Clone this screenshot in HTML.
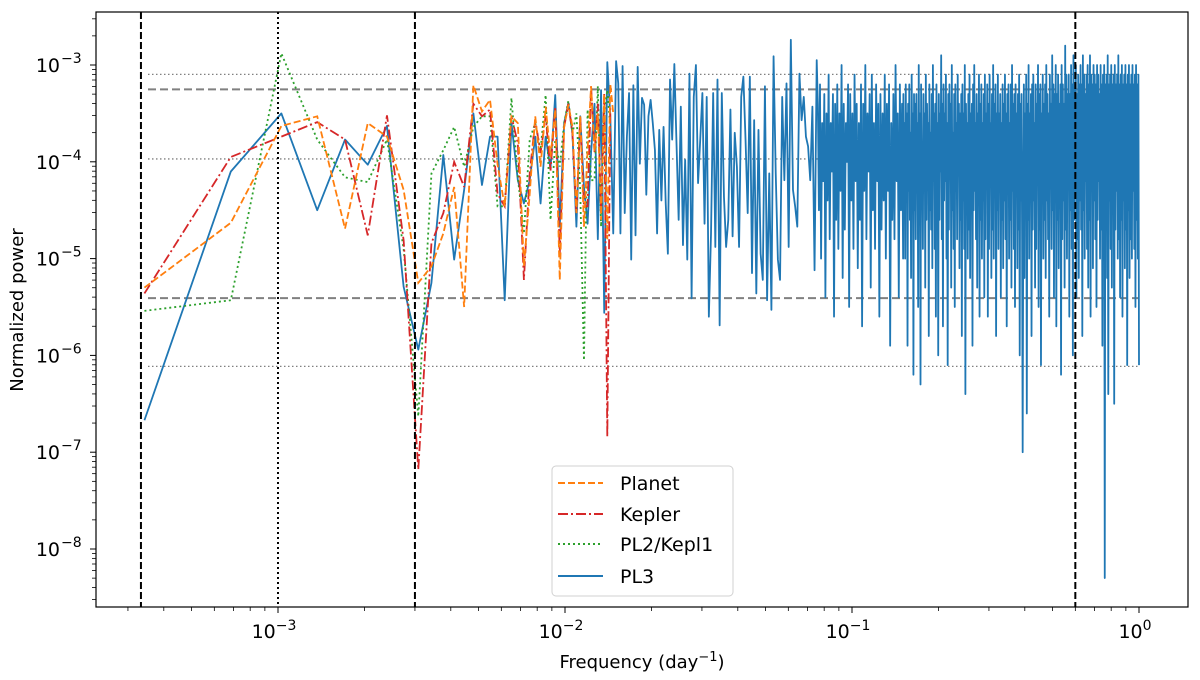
<!DOCTYPE html>
<html><head><meta charset="utf-8"><style>
body{margin:0;background:#fff;}
svg{display:block;font-family:"DejaVu Sans","Liberation Sans",sans-serif;}
</style></head><body>
<svg id="chart" width="1200" height="680" viewBox="0 0 1200 680" xmlns="http://www.w3.org/2000/svg">
<defs><clipPath id="plotclip"><rect x="96" y="12" width="1092" height="595"/></clipPath></defs>
<rect width="1200" height="680" fill="#fff"/>
<g id="refs" clip-path="url(#plotclip)"></g>
<g id="series" clip-path="url(#plotclip)"></g>
<g id="axes"></g>
<text transform="translate(23,310) rotate(-90)" text-anchor="middle" font-size="18">Normalized power</text>
<text x="642" y="668" text-anchor="middle" font-size="18">Frequency (day<tspan dy="-7" font-size="13">−1</tspan><tspan dy="7">)</tspan></text>
<g>
<rect x="552" y="466" width="181" height="130" rx="4" fill="#fff" stroke="#d0d0d0" stroke-width="1"/>
<line x1="558" y1="483" x2="603" y2="483" stroke="#ff7f0e" stroke-width="2" stroke-dasharray="7,3"/>
<text x="620" y="490" font-size="19">Planet</text>
<line x1="558" y1="514" x2="603" y2="514" stroke="#d62728" stroke-width="2" stroke-dasharray="10,3,2,3"/>
<text x="620" y="521" font-size="19">Kepler</text>
<line x1="558" y1="544" x2="603" y2="544" stroke="#2ca02c" stroke-width="2" stroke-dasharray="2,3"/>
<text x="620" y="551" font-size="19">PL2/Kepl1</text>
<line x1="558" y1="576" x2="603" y2="576" stroke="#1f77b4" stroke-width="2"/>
<text x="620" y="583" font-size="19">PL3</text>
</g>
</svg>
<script>
const df = 1/2920;
const planetLog = [-5.30,-4.63,-3.63,-3.53,-4.69,-3.60,-3.74,-4.29,-5.25,-5.08,-4.74,-4.26,-5.50,-3.21,-3.48,-3.36,-4.03,-4.46,-3.53,-3.60,-5.08,-4.33,-3.53,-4.05,-3.43,-3.95,-3.46,-5.22,-3.64,-3.41,-3.64,-4.53,-3.53,-4.67,-3.88,-3.22,-3.9,-3.5,-4.6,-3.3,-4.8,-3.2,-3.5];
const keplerLog = [-5.36,-3.95,-3.74,-3.59,-3.77,-4.76,-3.52,-4.81,-7.18,-4.84,-4.53,-4.0,-4.26,-3.40,-3.53,-3.46,-4.33,-4.46,-3.53,-3.81,-5.22,-4.12,-3.57,-3.91,-3.53,-4.09,-3.43,-4.95,-3.64,-3.40,-3.71,-4.53,-3.53,-4.46,-4.46,-3.22,-3.9,-3.4,-4.5,-3.3,-6.84,-3.43];
const pl2Log = [-5.54,-5.43,-2.88,-3.77,-4.16,-4.21,-3.77,-4.9,-6.63,-4.12,-3.88,-3.64,-4.05,-3.64,-3.53,-3.53,-4.46,-4.46,-3.34,-4.16,-4.74,-3.77,-3.60,-3.88,-3.31,-4.60,-3.77,-4.05,-3.60,-3.37,-3.71,-3.5,-4.3,-6.05,-3.46,-4.19,-4.19,-3.22,-4.67,-3.50,-3.26,-3.64];
const pl3LowLog = [-6.67,-4.10,-3.50,-4.50,-3.77,-4.03,-3.63,-5.29,-5.94,-5.25,-3.93,-5.01,-4.29,-3.50,-4.24,-3.74,-3.74,-5.43,-3.60,-4.19,-4.43,-4.19,-3.74,-4.43,-3.74,-4.07,-3.31,-4.67,-3.60,-3.39,-3.71,-4.67,-3.53,-4.26,-4.64,-3.9,-3.4,-4.8,-3.26,-5.56,-2.97,-3.53,-4.74];
const pl3MidLog = [-2.96,-3.19,-4.74,-3.01,-4.53,-3.74,-3.29,-5.01,-3.21,-4.76,-3.02,-4.02,-3.34,-3.41,-4.34,-3.53,-3.36,-3.60,-3.88,-4.74,-3.67,-4.40,-3.64,-4.43,-4.95,-3.15,-3.77,-2.99,-3.81,-4.60,-3.43,-4.86,-3.98,-5.01,-3.09,-5.41,-3.33,-3.00,-4.22,-3.77,-3.29,-4.64,-3.33,-5.60,-4.74,-3.29,-4.88,-3.15,-5.69,-3.29,-4.36,-4.88,-4.60,-3.46,-4.77,-3.70,-4.05,-4.88,-3.33,-3.12,-3.77,-4.53,-3.12,-5.15,-3.57,-5.36,-3.67,-4.95,-5.22,-3.22,-5.43,-4.12,-5.53,-2.91,-4.12,-5.01,-5.22,-3.33,-4.19,-3.19,-4.88,-2.74,-4.29,-4.46,-4.67,-3.09,-3.57,-3.33,-3.74,-3.84,-4.19,-3.43,-5.12,-2.95];
const pl3Mid2Log = [
-3.4,-4.5,-3.2,-5.0,-3.6,-4.2,-3.3,-5.4,-3.5,-4.4,
-3.1,-4.8,-3.6,-4.1,-3.3,-5.6,-3.4,-4.6,-3.2,-4.9,
-3.5,-4.3,-3.0,-5.2,-3.4,-4.7,-3.6,-4.0,-3.2,-5.5,
-3.3,-4.4,-3.5,-4.9,-3.1,-4.2,-3.4,-5.1,-3.6,-4.6,
-3.2,-5.7,-3.4,-4.3,-3.0,-4.8,-3.5,-4.1,-3.3,-5.3,
-3.1,-4.5,-3.6,-4.9,-3.2,-4.2,-3.4,-5.6,-3.3,-4.7,
-3.5,-4.4,-3.1,-5.0,-3.4,-4.3,-3.2,-5.9,-3.6,-4.6,
-3.3,-4.8,-3.0,-4.2,-3.5,-5.4,-3.2,-4.5,-3.4,-5.0];
const pl3HighLog = [
-3.3,-4.4,-3.6,-5.0,-3.2,-4.1,-3.5,-5.9,-3.4,-4.3,
-3.2,-4.6,-3.7,-5.2,-3.1,-4.0,-3.5,-6.2,-3.3,-4.5,
-3.4,-4.8,-3.3,-4.2,-3.6,-5.5,-3.0,-4.4,-3.5,-6.3,
-3.2,-4.1,-3.8,-4.9,-3.3,-4.3,-3.5,-5.3,-3.1,-4.6,
-3.4,-4.0,-3.6,-5.8,-3.2,-4.5,-3.7,-4.7,-3.3,-5.1,
-3.0,-4.2,-3.5,-4.9,-3.4,-5.6,-3.2,-4.3,-3.6,-6.0,
-3.3,-4.6,-3.5,-4.1,-2.9,-4.8,-3.4,-5.7,-3.2,-4.4,
-3.5,-4.2,-3.1,-5.0,-3.6,-6.1,-3.3,-4.7,-3.2,-4.0,
-3.4,-5.3,-3.0,-4.5,-3.7,-4.9,-3.3,-5.5,-3.2,-4.3,
-3.6,-4.8,-3.1,-4.1,-3.4,-5.1,-3.5,-4.6,-3.3,-5.8,
-3.2,-4.4,-3.5,-4.9,-3.0,-6.4,-3.4,-4.2,-3.6,-5.0,
-3.3,-4.7,-3.1,-5.2,-3.5,-4.0,-3.4,-5.9,-3.2,-4.5,
-3.0,-4.3,-3.6,-4.8,-3.3,-5.3,-3.5,-4.1,-3.1,-5.6,
-3.4,-4.6,-3.2,-5.0,-3.6,-4.4,-3.3,-5.4,-3.1,-4.8,
-3.5,-4.2,-3.2,-5.6,-3.4,-4.9,-3.1,-4.0,-3.6,-5.2,
-3.3,-4.7,-3.0,-5.0,-3.4,-4.3,-3.2,-5.8,-3.5,-4.5,
-3.1,-4.9,-3.5,-4.2,-3.3,-5.4,-3.6,-4.6,-3.2,-5.1,
-3.4,-4.4,-3.1,-4.8,-3.5,-5.7,-3.3,-4.1,-3.2,-5.0,
-3.6,-4.6,-3.2,-5.3,-3.0,-4.3,-3.4,-4.9,-3.3,-5.5,
-3.2,-4.2,-3.5,-5.1,-3.3,-4.7,-3.1,-6.0,-3.4,-4.4,
-3.3,-4.8,-7.0,-4.5,-3.2,-5.2,-3.5,-4.3,-3.1,-6.6,
-3.4,-4.6,-3.0,-5.0,-3.5,-4.2,-3.3,-5.8,-3.2,-4.7,
-3.1,-4.4,-3.6,-5.3,-3.2,-4.9,-3.4,-4.1,-3.0,-5.5,
-3.3,-4.7,-3.2,-6.1,-3.5,-4.3,-3.1,-5.0,-3.4,-4.6,
-3.2,-5.2,-3.0,-4.4,-3.3,-4.8,-3.5,-5.6,-3.1,-4.2,
-3.4,-4.9,-2.9,-4.5,-3.2,-5.4,-3.3,-4.1,-3.0,-5.7,
-3.3,-4.6,-3.1,-5.1,-3.4,-4.3,-3.2,-6.2,-3.0,-4.8,
-3.2,-4.4,-3.4,-5.3,-2.8,-4.7,-3.1,-5.0,-3.3,-4.2,
-3.1,-5.6,-3.3,-4.5,-3.0,-4.9,-3.2,-6.0,-2.9,-4.6,
-3.2,-4.3,-3.0,-5.4,-3.3,-4.8,-3.1,-5.2,-3.2,-4.4,
-3.0,-4.7,-3.2,-5.8,-2.9,-4.5,-3.1,-5.0,-3.3,-4.2,
-3.1,-4.9,-3.0,-5.3,-3.2,-4.6,-2.9,-5.6,-3.1,-4.3,
-3.2,-5.1,-3.0,-4.4,-3.1,-4.8,-3.2,-5.5,-3.0,-4.6,
-3.1,-4.2,-3.3,-5.0,-3.0,-4.7,-3.2,-5.9,-3.1,-4.5,
-3.0,-8.3,-3.2,-4.6,-3.1,-5.2,-2.9,-6.4,-3.2,-4.4,
-3.1,-4.9,-3.0,-5.3,-3.2,-4.5,-3.1,-6.5,-3.0,-4.7,
-3.2,-4.3,-3.1,-5.0,-2.9,-4.8,-3.2,-5.4,-3.1,-4.6,
-3.0,-5.6,-3.2,-4.4,-3.1,-5.1,-3.0,-4.7,-3.2,-6.1,
-3.1,-4.5,-3.0,-5.2,-3.2,-4.8,-3.1,-5.0,-3.0,-4.3,
-3.2,-4.9,-3.1,-5.5,-3.0,-4.6,-3.2,-5.0,-3.1,-6.1];
const hLinesDotted = [8e-4, 1.07e-4, 7.7e-7];
const hLinesDashed = [5.6e-4, 3.9e-6];
const vLinesDashed = [3.33e-4, 3.0e-3, 0.6];
const vLinesDotted = [1e-3];
const xTickExp = [-3,-2,-1,0];
const yTickExp = [-8,-7,-6,-5,-4,-3];

const NS='http://www.w3.org/2000/svg';
function xS(f){return 278 + 287*(Math.log10(f)+3);}
function yS(lg){return 65 + 96.8*(-3-lg);}
function mk(tag,attrs,parent){const e=document.createElementNS(NS,tag);for(const k in attrs)e.setAttribute(k,attrs[k]);parent.appendChild(e);return e;}
const refs=document.getElementById('refs'), ser=document.getElementById('series'), axes=document.getElementById('axes');
const X0=148, X1=1139;
hLinesDotted.forEach(v=>{const l=mk('line',{x1:X0,x2:X1,y1:yS(Math.log10(v)),y2:yS(Math.log10(v)),stroke:'#808080','stroke-width':1.3,'stroke-dasharray':'1.5,2.5'},refs);

});
hLinesDashed.forEach(v=>{const l=mk('line',{x1:X0,x2:X1,y1:yS(Math.log10(v)),y2:yS(Math.log10(v)),stroke:'#808080','stroke-width':2,'stroke-dasharray':'8,4'},refs);

});

const kLow=[]; for(let i=0;i<pl3LowLog.length;i++)kLow.push(i+1);
function geo(a,b,n){const r=[];for(let i=0;i<n;i++)r.push(a*Math.pow(b/a,i/(n-1)));return r;}
const kMid=geo(kLow.length+1,220,pl3MidLog.length);
const kMid2=geo(222,440,pl3Mid2Log.length);
const kHigh=geo(441,2920,pl3HighLog.length);
function pathFrom(ks,vals){return ks.map((k,i)=>(i?'L':'M')+xS(k*df).toFixed(2)+','+yS(vals[i]).toFixed(2)).join('');}
const pl3K=kLow.concat(kMid,kMid2,kHigh), pl3V=pl3LowLog.concat(pl3MidLog,pl3Mid2Log,pl3HighLog);
const p3=mk('path',{d:pathFrom(pl3K,pl3V),fill:'none',stroke:'#1f77b4','stroke-width':1.8,'stroke-linejoin':'round'},ser);


function idx(n){const r=[];for(let i=1;i<=n;i++)r.push(i);return r;}
const pg=mk('path',{d:pathFrom(idx(pl2Log.length),pl2Log),fill:'none',stroke:'#2ca02c','stroke-width':1.8,'stroke-dasharray':'2,3'},ser);


const pk=mk('path',{d:pathFrom(idx(keplerLog.length),keplerLog),fill:'none',stroke:'#d62728','stroke-width':1.8,'stroke-dasharray':'10,3,2,3'},ser);


const pp=mk('path',{d:pathFrom(idx(planetLog.length),planetLog),fill:'none',stroke:'#ff7f0e','stroke-width':1.8,'stroke-dasharray':'7,3'},ser);


vLinesDashed.forEach(f=>{const l=mk('line',{x1:xS(f),x2:xS(f),y1:12,y2:607,stroke:'#000','stroke-width':2,'stroke-dasharray':'7,3'},ser);

});
vLinesDotted.forEach(f=>{const l=mk('line',{x1:xS(f),x2:xS(f),y1:12,y2:607,stroke:'#000','stroke-width':2,'stroke-dasharray':'2,3'},ser);

});

const fr=mk('rect',{x:96,y:12,width:1092,height:595,fill:'none',stroke:'#000','stroke-width':1.2},axes);


xTickExp.forEach(e=>{const x=xS(Math.pow(10,e));mk('line',{x1:x,x2:x,y1:607,y2:613,stroke:'#000','stroke-width':1},axes);
const t=mk('text',{x:x-4,y:638,'text-anchor':'middle','font-size':19},axes);


t.innerHTML='10<tspan dy="-8" font-size="14">'+(e<0?'−'+(-e):e)+'</tspan>';
for(let m=2;m<=9;m++){const xm=xS(m*Math.pow(10,e-1));if(xm>96&&xm<1188)mk('line',{x1:xm,x2:xm,y1:607,y2:611,stroke:'#000','stroke-width':0.8},axes);}});
for(let m=2;m<=9;m++){const xm=xS(m);if(xm<1188)mk('line',{x1:xm,x2:xm,y1:607,y2:611,stroke:'#000','stroke-width':0.8},axes);}
yTickExp.forEach(e=>{const y=yS(e);mk('line',{x1:90,x2:96,y1:y,y2:y,stroke:'#000','stroke-width':1},axes);
const t=mk('text',{x:60,y:y+7,'text-anchor':'end','font-size':19},axes);


t.textContent='10';
const s=mk('text',{x:61,y:y-2,'text-anchor':'start','font-size':14},axes);
s.textContent='−'+(-e);
for(let m=2;m<=9;m++){const ym=yS(e-1+Math.log10(m));if(ym>12&&ym<607)mk('line',{x1:92,x2:96,y1:ym,y2:ym,stroke:'#000','stroke-width':0.8},axes);}});
for(let m=2;m<=9;m++){const ym=yS(-3+Math.log10(m));if(ym>12)mk('line',{x1:92,x2:96,y1:ym,y2:ym,stroke:'#000','stroke-width':0.8},axes);}
</script>
</body></html>
